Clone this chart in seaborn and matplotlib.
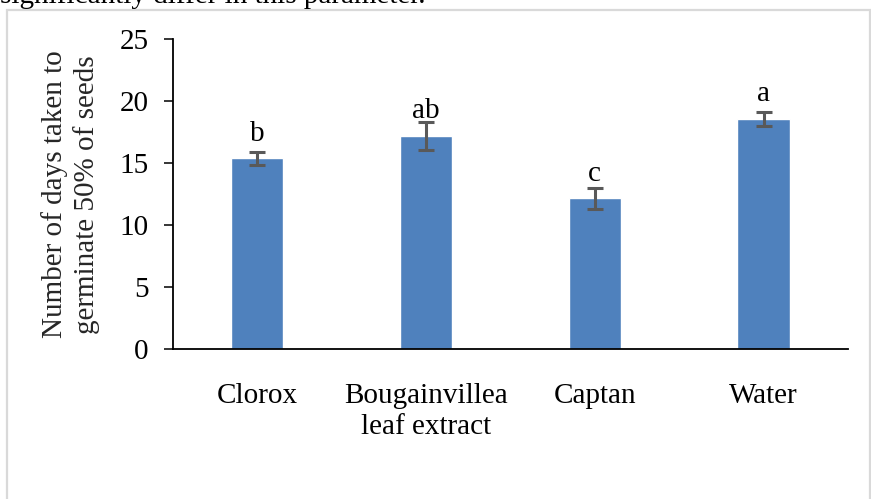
import matplotlib
matplotlib.use("Agg")
import matplotlib.pyplot as plt
from matplotlib.patches import Rectangle
import seaborn as sns
import pandas as pd

# Germination data: mean days to 50% germination, standard error, letter grouping
treatments = ["Clorox", "Bougainvillea\nleaf extract", "Captan", "Water"]
mean_days = [15.4, 17.2, 12.2, 18.6]
std_error = [0.5, 1.15, 0.85, 0.55]
letters = ["b", "ab", "c", "a"]
letter_gap_px = [11, 4, 7, 11]

df = pd.DataFrame({"treatment": treatments, "days": mean_days})

sns.set_theme(style="white")
plt.rcParams["font.family"] = ["Liberation Serif", "DejaVu Serif"]

fig = plt.figure(figsize=(8.71, 4.99), dpi=100)
ax = fig.add_axes([0.1983, 0.2996, 0.9736 - 0.1983, 0.9212 - 0.2996])

sns.barplot(data=df, x="treatment", y="days", color="#4f81bd", saturation=1,
            width=0.31, errorbar=None, ax=ax)
ax.errorbar(range(len(treatments)), mean_days, yerr=std_error, fmt="none",
            ecolor="#595959", elinewidth=2.2, capsize=6, capthick=2.2, zorder=5)

for i, (m, e, lab, gap) in enumerate(zip(mean_days, std_error, letters, letter_gap_px)):
    ax.annotate(lab, xy=(i, m + e), xytext=(0, gap), textcoords="offset pixels",
                ha="center", va="baseline", fontsize=21, color="black")

ax.set_xlim(-0.5, 3.5)
ax.set_ylim(0, 25)
ax.set_yticks([0, 5, 10, 15, 20, 25])
ax.set_xlabel("")
ax.set_ylabel("Number of days taken to\ngerminate 50% of seeds", fontsize=21,
              labelpad=14, linespacing=1.25)

for side in ["top", "right"]:
    ax.spines[side].set_visible(False)
for side in ["left", "bottom"]:
    ax.spines[side].set_color("black")
    ax.spines[side].set_linewidth(1.3)

ax.tick_params(axis="y", which="both", left=True, length=6.5, width=1.1,
               color="black", pad=11, labelsize=21, labelcolor="black")
ax.tick_params(axis="x", which="both", bottom=False, pad=18, labelsize=21,
               labelcolor="black")
for t in ax.get_xticklabels():
    t.set_linespacing(1.25)

# Surrounding frame and the sentence above it
fig.patches.append(Rectangle((7 / 871, -0.05), (870 - 7) / 871, 1.05 - 10 / 499,
                             transform=fig.transFigure, fill=False,
                             edgecolor="#d9d9d9", linewidth=1.6))
fig.text(0.0, 1 - 3 / 499, "significantly differ in this parameter.",
         fontsize=21, ha="left", va="baseline", color="black")

fig.savefig("out.png", dpi=100)
